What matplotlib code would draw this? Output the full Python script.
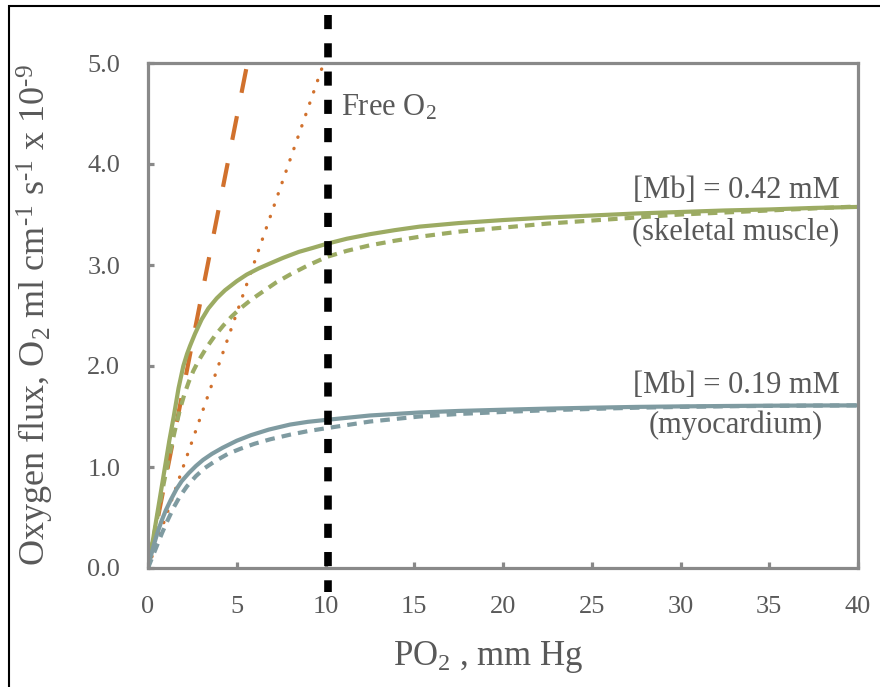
import numpy as np
import matplotlib
matplotlib.use("Agg")
import matplotlib.pyplot as plt
from matplotlib.patches import Rectangle

plt.rcParams['font.family'] = ['Liberation Serif', 'DejaVu Serif']
plt.rcParams['mathtext.fontset'] = 'custom'
plt.rcParams['mathtext.rm'] = 'Liberation Serif'
plt.rcParams['mathtext.it'] = 'Liberation Serif:italic'

# values (PO2 in mm Hg, flux in ml cm-1 s-1 x 10-9)
skel_x = [0, 0.3, 0.6, 0.9, 1.2, 1.45, 1.72, 1.99, 2.2, 2.37, 2.65, 3.02, 3.4, 3.87,
          4.34, 5.0, 5.56, 6.22, 6.87, 7.6, 8.5, 9.3, 10.07, 11.2, 12.5, 13.9, 15.3,
          17.5, 20, 22.5, 25, 27.5, 30, 32.5, 35, 37.5, 40]
skel_y = [0, 0.30, 0.62, 0.94, 1.26, 1.50, 1.78, 2.00, 2.12, 2.20, 2.32, 2.46, 2.57, 2.67,
          2.75, 2.84, 2.905, 2.965, 3.015, 3.07, 3.13, 3.17, 3.21, 3.26, 3.305, 3.345, 3.38,
          3.415, 3.445, 3.47, 3.49, 3.51, 3.525, 3.54, 3.55, 3.565, 3.575]

skel2_x = [0, 0.3, 0.6, 0.9, 1.2, 1.5, 1.8, 2.05, 2.3, 2.55, 2.84, 3.31, 3.77, 4.24,
           4.71, 5.18, 5.84, 6.5, 7.2, 8.0, 9.0, 10.07, 11.2, 12.5, 13.9, 15.3, 17.5,
           20, 22.5, 25, 27.5, 30, 32.5, 35, 37.5, 40]
skel2_y = [0, 0.29, 0.575, 0.85, 1.11, 1.35, 1.57, 1.72, 1.845, 1.95, 2.05, 2.186, 2.30, 2.40,
           2.49, 2.567, 2.66, 2.74, 2.825, 2.905, 2.995, 3.08, 3.14, 3.195, 3.24, 3.28, 3.33,
           3.37, 3.41, 3.44, 3.47, 3.50, 3.52, 3.54, 3.56, 3.58]

myo_x = [0, 0.15, 0.3, 0.5, 0.75, 1.0, 1.3, 1.6, 1.9, 2.3, 2.7, 3.1, 3.6, 4.2, 5.0,
         5.8, 6.8, 8.0, 9.0, 10.07, 12.5, 15.3, 17.5, 20, 22.5, 25, 27.5, 30, 32.5,
         35, 37.5, 40]
myo_y = [0, 0.11, 0.21, 0.33, 0.46, 0.57, 0.68, 0.78, 0.86, 0.94, 1.01, 1.07, 1.13, 1.19, 1.26,
         1.315, 1.37, 1.42, 1.447, 1.467, 1.51, 1.54, 1.555, 1.567, 1.578, 1.587, 1.595, 1.600,
         1.604, 1.607, 1.609, 1.61]

myo2_x = [0, 0.25, 0.5, 0.8, 1.1, 1.45, 1.8, 2.2, 2.7, 3.2, 3.8, 4.5, 5.2, 6.0, 6.9,
          8.0, 9.0, 10.07, 12.5, 15.3, 17.5, 20, 22.5, 25, 27.5, 30, 32.5, 35, 37.5, 40]
myo2_y = [0, 0.11, 0.22, 0.35, 0.47, 0.60, 0.71, 0.81, 0.91, 0.99, 1.06, 1.13, 1.18, 1.23, 1.275,
          1.32, 1.355, 1.385, 1.45, 1.50, 1.525, 1.545, 1.562, 1.575, 1.587, 1.595, 1.601, 1.605,
          1.608, 1.61]

free_a_x = [0, 5.6]
free_a_y = [0, 5.0]
free_b_x = [0, 9.9]
free_b_y = [0, 5.0]

free_line_x = 10.15

xticks = [0, 5, 10, 15, 20, 25, 30, 35, 40]
yticks = [0.0, 1.0, 2.0, 3.0, 4.0, 5.0]

green = '#9CAB63'
blue = '#7F9BA1'
orange = '#D1712D'
grey_txt = '#595959'
grey_ax = '#898989'

W, H = 880, 687
fig = plt.figure(figsize=(W / 100, H / 100), dpi=100)
ax = fig.add_axes([148 / W, 1 - 568 / H, 710 / W, 505 / H])

ax.plot(free_b_x, free_b_y, color=orange, lw=2.4, ls=(0, (0.1, 3.5)),
        dash_capstyle='round')
# drawn from the top end so the dash phase matches
ax.plot(free_a_x[::-1], free_a_y[::-1], color=orange, lw=3.0, ls=(10.0, (5.8, 5.7)))
ax.plot(skel2_x, skel2_y, color=green, lw=3.0, ls=(0, (2.3, 1.7)))
ax.plot(skel_x, skel_y, color=green, lw=3.0)
ax.plot(myo2_x, myo2_y, color=blue, lw=3.0, ls=(0, (2.3, 1.7)))
ax.plot(myo_x, myo_y, color=blue, lw=3.0)

# free O2 marker line, runs past the axes
ax.plot([free_line_x, free_line_x], [5.475, -0.24], color='black', lw=5.5,
        ls=(0, (1.85, 1.85)), clip_on=False, zorder=5)

ax.set_xlim(0, 40)
ax.set_ylim(0, 5.0)
ax.set_xticks(xticks)
ax.set_yticks(yticks)
ax.set_yticklabels(['%.1f' % v for v in yticks])
for s in ax.spines.values():
    s.set_color(grey_ax)
    s.set_linewidth(2.3)
ax.tick_params(direction='in', length=4, width=2.3, color=grey_ax,
               labelsize=19, labelcolor=grey_txt)
ax.tick_params(axis='x', pad=20)
ax.tick_params(axis='y', pad=20)

ax.text(10.87, 4.485, 'Free O$_2$', fontsize=22, color=grey_txt, va='baseline')
ax.text(33.13, 3.663, '[Mb] = 0.42 mM', fontsize=22, color=grey_txt,
        ha='center', va='baseline')
ax.text(33.13, 3.257, '(skeletal muscle)', fontsize=22, color=grey_txt,
        ha='center', va='baseline')
ax.text(33.13, 1.733, '[Mb] = 0.19 mM', fontsize=22, color=grey_txt,
        ha='center', va='baseline')
ax.text(33.13, 1.337, '(myocardium)', fontsize=22, color=grey_txt,
        ha='center', va='baseline')

fig.text(488 / W, 1 - 665 / H, 'PO$_2$ , mm Hg', fontsize=25, color=grey_txt,
         ha='center', va='baseline')
fig.text(46 / W, 1 - 315 / H,
         r'Oxygen flux, O$_2$ ml cm$^{\text{-}1}$ s$^{\text{-}1}$ x 10$^{\text{-}9}$',
         fontsize=26, color=grey_txt, rotation=90, rotation_mode='anchor',
         ha='center', va='baseline')

# outer frame, cut off at the right and bottom like the screenshot
fig.patches.append(Rectangle((9 / W, -0.1), 1.2, 1.1 - 6 / H,
                             transform=fig.transFigure, fill=False,
                             lw=1.5, ec='black'))

fig.savefig('out.png', dpi=100)
